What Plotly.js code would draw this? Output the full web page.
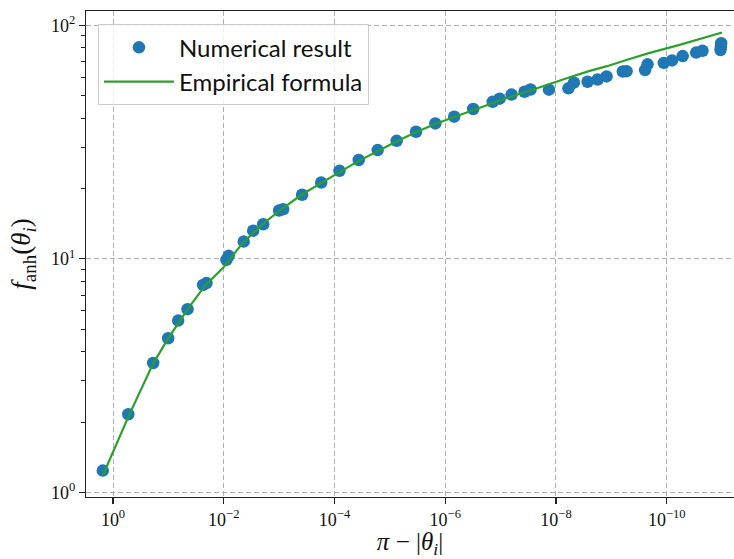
<!DOCTYPE html>
<html>
<head>
<meta charset="utf-8">
<script src="https://cdn.plot.ly/plotly-3.0.1.min.js"></script>
<style>html,body{margin:0;padding:0;background:#fff;}#chart{width:734px;height:559px;}</style>
</head>
<body>
<div id="chart"></div>
<script>
// Numerical result (x = pi - |theta_i|, y = f_anh)
const numX = [1.53, 0.53, 0.188, 0.101, 0.0666, 0.0451, 0.0236, 0.0205, 0.00894, 0.00813,
  0.00436, 0.00294, 0.00194, 0.00100, 0.000847, 0.000385, 0.000174, 8.13e-5, 3.65e-5, 1.66e-5,
  7.54e-6, 3.37e-6, 1.51e-6, 6.89e-7, 3.13e-7, 1.39e-7, 1.04e-7, 6.34e-8, 3.70e-8, 2.88e-8,
  1.34e-8, 5.96e-9, 4.74e-9, 2.69e-9, 1.77e-9, 1.22e-9, 6.21e-10, 5.32e-10, 2.46e-10, 2.22e-10,
  1.13e-10, 8.02e-11, 5.15e-11, 2.94e-11, 2.26e-11, 1.07e-11, 1.05e-11, 1.04e-11];
const numY = [1.24, 2.16, 3.58, 4.57, 5.44, 6.09, 7.73, 7.87, 9.89, 10.3,
  11.85, 13.2, 14.06, 16.1, 16.3, 18.8, 21.2, 23.8, 26.5, 29.2,
  32.0, 35.0, 38.0, 40.6, 43.8, 47.0, 48.5, 50.5, 51.9, 53.1,
  53.0, 53.7, 56.8, 57.3, 58.6, 60.4, 63.4, 63.6, 64.3, 68.0,
  69.0, 70.7, 73.8, 76.4, 77.8, 78.3, 81.0, 83.8];

// Empirical formula curve
const fitX = [1.51, 0.537, 0.190, 0.102, 0.0445, 0.0220, 0.0100, 0.00455, 0.00198, 0.00094,
  0.000394, 0.000179, 8.13e-5, 3.70e-5, 1.68e-5, 7.64e-6, 3.33e-6, 1.51e-6, 6.89e-7, 3.13e-7,
  1.36e-7, 6.21e-8, 2.82e-8, 1.34e-8, 5.83e-9, 2.54e-9, 1.2e-9, 5.0e-10, 2.11e-10, 6.08e-11, 1.0e-11];
const fitY = [1.19, 2.09, 3.55, 4.54, 6.11, 7.66, 9.23, 11.7, 14.1, 16.2,
  18.8, 21.1, 23.5, 26.2, 28.9, 31.8, 34.9, 37.8, 40.5, 43.4,
  46.4, 49.7, 52.7, 56.0, 59.7, 63.6, 66.8, 71.3, 76.0, 82.2, 93.1];

// Tick labels
const xTickVals = [1, 1e-2, 1e-4, 1e-6, 1e-8, 1e-10];
const xTickText = ["10<sup>0</sup>", "10<sup>−2</sup>", "10<sup>−4</sup>", "10<sup>−6</sup>", "10<sup>−8</sup>", "10<sup>−10</sup>"];
const yTickVals = [1, 10, 100];
const yTickText = ["10<sup>0</sup>", "10<sup>1</sup>", "10<sup>2</sup>"];
const yMinorVals = [2,3,4,5,6,7,8,9,20,30,40,50,60,70,80,90];

const serif = "Liberation Serif, DejaVu Serif, serif";
const axisCommon = {
  type: 'log',
  showline: true, linecolor: '#222', linewidth: 1.2,
  ticks: 'outside', ticklen: 6, tickwidth: 1.1, tickcolor: '#222',
  showgrid: true, gridcolor: '#b0b0b0', gridwidth: 1, griddash: '5px,3px',
  zeroline: false,
  tickfont: {family: serif, size: 18, color: '#111'},
  tickmode: 'array',
  automargin: false
};

const traces = [
  {
    x: numX, y: numY, type: 'scatter', mode: 'markers', name: 'Numerical result',
    marker: {color: '#1f77b4', size: 12.5},
    legendgroup: 'a'
  },
  {
    x: fitX, y: fitY, type: 'scatter', mode: 'lines', name: 'Empirical formula',
    line: {color: '#2ca02c', width: 2.2},
    legendgroup: 'b'
  }
];

const layout = {
  width: 734, height: 559,
  margin: {l: 86, r: 0, t: 11, b: 62},
  paper_bgcolor: '#fff', plot_bgcolor: '#fff',
  showlegend: true,
  xaxis: Object.assign({}, axisCommon, {
    range: [0.488, -11.215],
    tickvals: xTickVals, ticktext: xTickText,
    mirror: true,
    title: {text: '<i>π</i> − |<i>θ</i><sub><i>i</i></sub>|', font: {family: serif, size: 25, color: '#111'}, standoff: 18}
  }),
  yaxis: Object.assign({}, axisCommon, {
    range: [-0.0197, 2.061],
    tickvals: yTickVals, ticktext: yTickText,
    minor: {tickmode: 'array', tickvals: yMinorVals, ticks: 'outside', ticklen: 4, tickwidth: 1, tickcolor: '#222', showgrid: false},
    title: {text: '<i>f</i><sub>anh</sub>(<i>θ</i><sub><i>i</i></sub>)', font: {family: serif, size: 27, color: '#111'}, standoff: 12}
  }),
  legend: {
    x: 0.0185, y: 0.9727, xanchor: 'left', yanchor: 'top',
    bgcolor: 'rgba(255,255,255,0.8)', bordercolor: '#cccccc', borderwidth: 1,
    font: {family: 'Lato, Open Sans, sans-serif', size: 24, color: '#111'},
    itemwidth: 70, tracegroupgap: 0, traceorder: 'grouped'
  }
};

Plotly.newPlot('chart', traces, layout, {displayModeBar: false, staticPlot: true});
</script>
</body>
</html>
